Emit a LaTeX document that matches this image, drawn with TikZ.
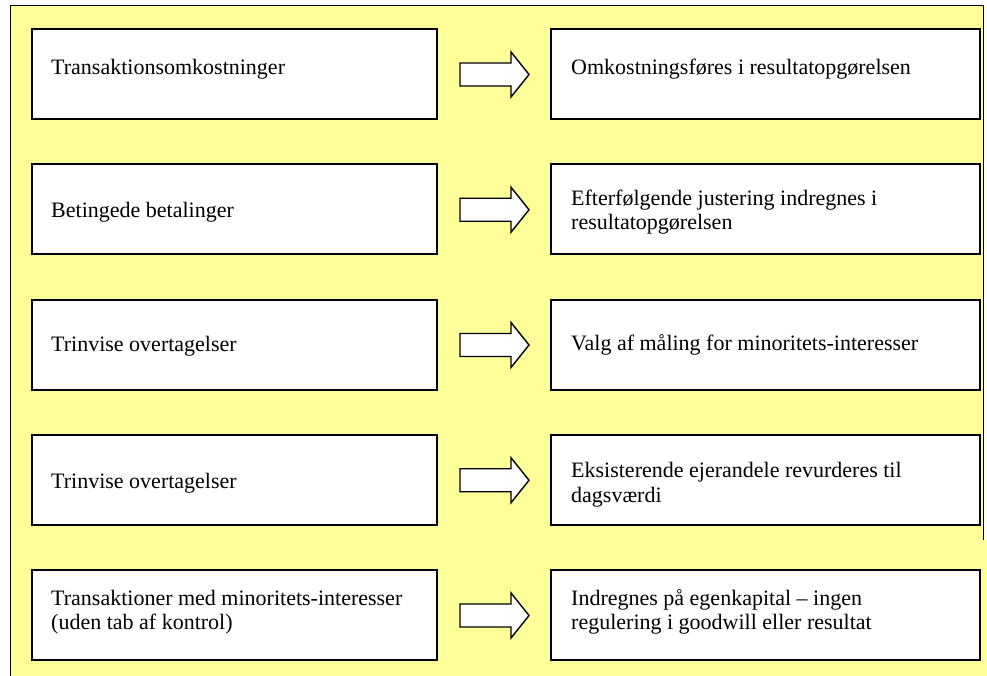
\documentclass[tikz,border=0pt]{standalone}
\usepackage{fontspec}
\setmainfont{Liberation Serif}
\definecolor{paneyellow}{HTML}{FFFF99}
\tikzset{
  x=1pt, y=-1pt,
  stepbox/.style={draw=black, line width=2pt, fill=white, inner sep=0pt},
  leftbox/.style={stepbox, minimum width=405pt, minimum height=90pt},
  rightbox/.style={stepbox, minimum width=429pt, minimum height=90pt},
  boxtext/.style={anchor=base west, inner sep=0pt, font=\fontsize{22}{24.5}\selectfont},
  arrowshape/.style={draw=black, line width=1.4pt, fill=white, line join=miter},
  pics/blockarrow/.style={code={
    \draw[arrowshape] (0,-11.5) -- (51,-11.5) -- (51,-22.5) -- (69,0)
      -- (51,22.5) -- (51,11.5) -- (0,11.5) -- cycle;}}
}
\newcommand{\twolines}[2]{\parbox[t]{400pt}{#1\\#2}}
\begin{document}
\begin{tikzpicture}
  % page and yellow panel
  \fill[white] (0,0) rectangle (987,676);
  \useasboundingbox (0,0) rectangle (987,676);
  \fill[paneyellow] (10,6) rectangle (983,676);
  \fill[paneyellow] (983,540) rectangle (987,676);
  \draw[black, line width=1pt] (10,676) -- (10,6) -- (983,6) -- (983,540);

  % boxes, one row per rule
  \node[leftbox]  (l1) at (234.5,74)     {};
  \node[rightbox] (r1) at (765.5,74)     {};
  \node[leftbox]  (l2) at (234.5,209.25) {};
  \node[rightbox] (r2) at (765.5,209.25) {};
  \node[leftbox]  (l3) at (234.5,344.5)  {};
  \node[rightbox] (r3) at (765.5,344.5)  {};
  \node[leftbox]  (l4) at (234.5,479.75) {};
  \node[rightbox] (r4) at (765.5,479.75) {};
  \node[leftbox]  (l5) at (234.5,615)    {};
  \node[rightbox] (r5) at (765.5,615)    {};

  % texts
  \node[boxtext] (tl1) at ([shift={(20,47)}]l1.north west) {Transaktionsomkostninger};
  \node[boxtext] (tr1) at ([shift={(21,47)}]r1.north west) {Omkostningsføres i resultatopgørelsen};
  \node[boxtext] (tl2) at ([shift={(20,54)}]l2.north west) {Betingede betalinger};
  \node[boxtext] (tr2) at ([shift={(21,42)}]r2.north west) {\twolines{Efterfølgende justering indregnes i}{resultatopgørelsen}};
  \node[boxtext] (tl3) at ([shift={(20,53)}]l3.north west) {Trinvise overtagelser};
  \node[boxtext] (tr3) at ([shift={(21,52)}]r3.north west) {Valg af måling for minoritets-interesser};
  \node[boxtext] (tl4) at ([shift={(20,55)}]l4.north west) {Trinvise overtagelser};
  \node[boxtext] (tr4) at ([shift={(21,44)}]r4.north west) {\twolines{Eksisterende ejerandele revurderes til}{dagsværdi}};
  \node[boxtext] (tl5) at ([shift={(20,36)}]l5.north west) {\twolines{Transaktioner med minoritets-interesser}{(uden tab af kontrol)}};
  \node[boxtext] (tr5) at ([shift={(21,36)}]r5.north west) {\twolines{Indregnes på egenkapital – ingen}{regulering i goodwill eller resultat}};

  % block arrows between the columns
  \pic (a1) at (460,74.5)   {blockarrow};
  \pic (a2) at (460,209.75) {blockarrow};
  \pic (a3) at (460,345)    {blockarrow};
  \pic (a4) at (460,480.25) {blockarrow};
  \pic (a5) at (460,615.5)  {blockarrow};
\end{tikzpicture}
\end{document}
